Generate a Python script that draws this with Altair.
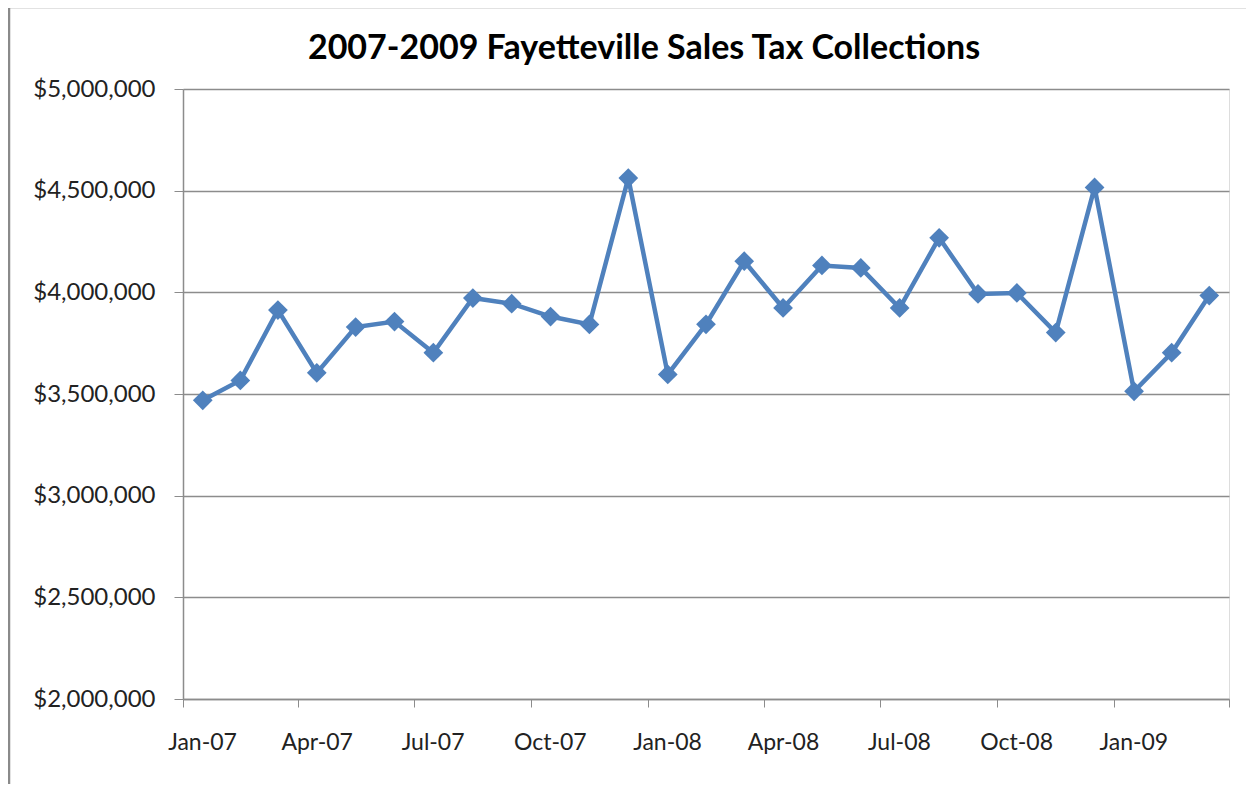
import altair as alt
import pandas as pd

months = [
    "2007-01", "2007-02", "2007-03", "2007-04", "2007-05", "2007-06",
    "2007-07", "2007-08", "2007-09", "2007-10", "2007-11", "2007-12",
    "2008-01", "2008-02", "2008-03", "2008-04", "2008-05", "2008-06",
    "2008-07", "2008-08", "2008-09", "2008-10", "2008-11", "2008-12",
    "2009-01", "2009-02", "2009-03",
]
sales = [
    3469000, 3567000, 3913000, 3604000, 3829000, 3856000,
    3703000, 3972000, 3944000, 3881000, 3842000, 4562000,
    3596000, 3843000, 4153000, 3923000, 4132000, 4120000,
    3923000, 4268000, 3992000, 3997000, 3802000, 4516000,
    3513000, 3703000, 3984000,
]
y_ticks = [2000000, 2500000, 3000000, 3500000, 4000000, 4500000, 5000000]
title_text = "2007-2009 Fayetteville Sales Tax Collections"

df = pd.DataFrame({"month": pd.to_datetime(months), "sales": sales})

W, H = 1046, 610
FONT = "Lato"
GRAY = "#8c8c8c"
BLUE = "#4F81BD"

x_enc = alt.X(
    "month:T",
    timeUnit="yearmonth",
    bandPosition=0.5,
    scale=alt.Scale(
        domain=[alt.DateTime(year=2007, month=1, date=1),
                alt.DateTime(year=2009, month=4, date=1)],
        nice=False,
    ),
    axis=alt.Axis(
        title=None,
        tickCount=alt.TimeIntervalStep(interval="month", step=3),
        labelExpr="datum.value >= datetime(2009, 3, 1) ? '' : timeFormat(datum.value, '%b-%y')",
        labelOffset=19,
        labelFont=FONT,
        labelFontSize=23,
        labelColor="#222222",
        labelPadding=24,
        tickSize=8,
        tickColor=GRAY,
        domainColor=GRAY,
        domainWidth=1.5,
        grid=False,
        labelFlush=False,
    ),
)

y_enc = alt.Y(
    "sales:Q",
    scale=alt.Scale(domain=[2000000, 5000000], nice=False, zero=False),
    axis=alt.Axis(
        title=None,
        values=y_ticks,
        format="$,.0f",
        labelFont=FONT,
        labelFontSize=24,
        labelColor="#222222",
        labelPadding=19,
        tickSize=9,
        tickColor=GRAY,
        domainColor=GRAY,
        domainWidth=1.5,
        grid=True,
        gridColor=GRAY,
        gridWidth=1.5,
    ),
)

line = alt.Chart(df).mark_line(
    color=BLUE,
    strokeWidth=4.5,
    point=alt.OverlayMarkDef(shape="diamond", size=390, filled=True, color=BLUE, opacity=1),
).encode(x=x_enc, y=y_enc)

one = pd.DataFrame({"t": [title_text]})

frame = alt.Chart(one).mark_rect(
    fill=None, stroke="#8a8a8a", strokeWidth=2.5, clip=False
).encode(
    x=alt.value(-174), x2=alt.value(W + 60),
    y=alt.value(-82), y2=alt.value(H + 200),
)

title = alt.Chart(one).mark_text(
    font=FONT, fontSize=34, fontWeight="bold", color="#000000",
    align="center", baseline="alphabetic", clip=False,
).encode(
    text="t:N",
    x=alt.value(461),
    y=alt.value(-30),
)

chart = alt.layer(frame, title, line).properties(
    width=W,
    height=H,
    padding={"left": 175, "top": 81, "right": 17, "bottom": 85},
    autosize=alt.AutoSizeParams(type="none"),
).configure_view(strokeWidth=0).configure(background="white")

chart.save("out.html", embed_options={"renderer": "svg", "actions": False})
